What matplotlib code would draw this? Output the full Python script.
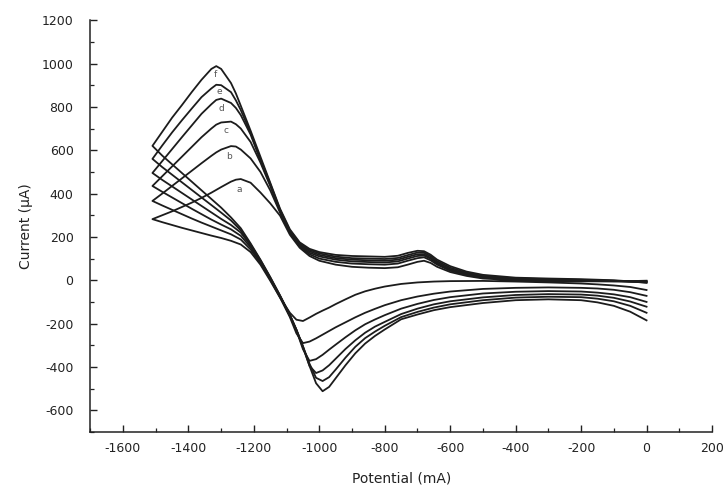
import matplotlib
matplotlib.use("Agg")
import matplotlib.pyplot as plt
from matplotlib.ticker import MultipleLocator

# potentials (mV) along the forward (upper) branch, from the switching point to 0
x_up = [-1510, -1480, -1450, -1420, -1390, -1360, -1330, -1315, -1300, -1270, -1255, -1240,
        -1210, -1180, -1150, -1120, -1090, -1060, -1030, -1000, -950, -900,
        -850, -800, -760, -730, -700, -680, -660, -640, -600, -550,
        -500, -400, -300, -200, -100, -50, 0]

up_a = [282, 300, 318, 338, 358, 380, 404, 417, 430, 455, 464, 467, 450, 405, 355, 298, 210, 150, 112, 90,
        72, 62, 58, 56, 60, 72, 85, 90, 80, 62, 38, 20, 8, 0, -3, -5, -5, -4, -2]
up_b = [366, 400, 435, 470, 505, 540, 574, 590, 603, 619, 617, 603, 562, 500, 415, 312, 218, 155, 120, 100,
        85, 77, 74, 72, 77, 90, 102, 106, 92, 72, 44, 25, 12, 3, 0, -3, -5, -5, -4]
up_c = [435, 480, 525, 570, 615, 660, 700, 718, 728, 732, 720, 700, 638, 543, 435, 318, 222, 160, 127, 110,
        95, 87, 84, 82, 87, 100, 112, 114, 99, 78, 48, 28, 15, 5, 1, -2, -4, -6, -6]
up_d = [495, 550, 605, 660, 714, 768, 812, 832, 838, 818, 795, 762, 672, 553, 440, 320, 225, 165, 134, 117,
        102, 95, 92, 90, 95, 108, 120, 120, 104, 82, 52, 31, 17, 7, 3, 0, -3, -6, -8]
up_e = [560, 622, 682, 738, 792, 845, 885, 902, 900, 868, 830, 785, 680, 560, 445, 325, 230, 170, 140, 124,
        109, 102, 100, 98, 103, 116, 128, 127, 111, 88, 58, 35, 20, 9, 5, 2, -2, -6, -10]
up_f = [620, 685, 750, 808, 868, 925, 975, 988, 975, 910, 862, 805, 690, 570, 450, 330, 235, 175, 145, 130,
        117, 112, 110, 108, 113, 126, 136, 134, 118, 95, 65, 40, 25, 12, 8, 5, 0, -5, -12]

# reverse (lower) branch, from the switching point back to 0
x_lo = [-1510, -1480, -1450, -1420, -1390, -1360, -1330, -1300, -1270, -1240,
        -1210, -1180, -1150, -1120, -1090, -1070, -1050, -1030, -1010, -990,
        -970, -950, -920, -890, -860, -830, -800, -750, -700, -650,
        -600, -500, -400, -300, -200, -150, -100, -50, 0]

lo_a = [282, 268, 255, 242, 230, 218, 206, 195, 182, 165, 130, 72, -2, -80,
        -150, -182, -188, -172, -155, -140, -126, -110,
        -88, -67, -51, -39, -29, -17, -10, -6, -4,
        -3, -6, -10, -15, -19, -24, -31, -45]
lo_b = [366, 345, 325, 305, 285, 266, 248, 230, 212, 188, 142, 80, 3, -80,
        -170, -245, -290, -283, -268, -251, -234, -217,
        -194, -171, -150, -132, -115, -92, -75, -62, -52,
        -40, -35, -33, -35, -38, -44, -55, -72]
lo_c = [435, 408, 382, 356, 330, 305, 280, 257, 235, 205, 152, 86, 8, -75,
        -165, -232, -318, -372, -364, -344, -320, -297,
        -263, -231, -203, -181, -161, -131, -109, -91, -78,
        -61, -53, -50, -52, -57, -65, -78, -100]
lo_d = [495, 463, 433, 403, 373, 343, 313, 283, 255, 220, 160, 90, 10, -73,
        -160, -228, -305, -395, -428, -416, -392, -362,
        -317, -277, -242, -214, -192, -156, -131, -111, -97,
        -79, -68, -64, -66, -71, -81, -98, -122]
lo_e = [560, 522, 487, 452, 417, 382, 347, 312, 276, 230, 165, 92, 12, -72,
        -160, -228, -305, -385, -450, -465, -447, -412,
        -357, -307, -267, -237, -210, -170, -146, -126, -111,
        -92, -80, -76, -78, -85, -97, -118, -150]
lo_f = [620, 575, 535, 495, 455, 415, 375, 335, 290, 240, 170, 95, 15, -70,
        -160, -230, -310, -395, -475, -512, -492, -452,
        -392, -337, -292, -257, -227, -180, -158, -138, -124,
        -105, -92, -88, -92, -102, -118, -145, -185]

curve_names = ["a", "b", "c", "d", "e", "f"]
upper = [up_a, up_b, up_c, up_d, up_e, up_f]
lower = [lo_a, lo_b, lo_c, lo_d, lo_e, lo_f]
# where the small letters sit, just under each cathodic peak
label_pos = [(-1244, 420), (-1275, 572), (-1284, 690), (-1299, 792), (-1306, 872), (-1318, 950)]

plt.rcParams["font.family"] = ["DejaVu Sans"]
plt.rcParams["axes.unicode_minus"] = False

fig = plt.figure(figsize=(7.28, 4.92), dpi=100)
ax = fig.add_axes([0.124, 0.122, 0.854, 0.837])

for name, up, lo, (lx, ly) in zip(curve_names, upper, lower, label_pos):
    xs = x_up[::-1] + x_lo
    ys = up[::-1] + lo
    ax.plot(xs, ys, color="#1c1c1c", lw=1.3, solid_joinstyle="round")
    ax.text(lx, ly, name, fontsize=6.5, color="#555555", ha="center", va="center")

ax.set_xlim(-1700, 200)
ax.set_ylim(-700, 1200)
ax.xaxis.set_major_locator(MultipleLocator(200))
ax.xaxis.set_minor_locator(MultipleLocator(100))
ax.yaxis.set_major_locator(MultipleLocator(200))
ax.yaxis.set_minor_locator(MultipleLocator(100))

ax.spines["top"].set_visible(False)
ax.spines["right"].set_visible(False)
for s in ("left", "bottom"):
    ax.spines[s].set_linewidth(1.1)
    ax.spines[s].set_color("#222222")

ax.tick_params(axis="both", which="major", direction="in", length=5, width=1,
               labelsize=9, colors="#222222")
ax.tick_params(axis="both", which="minor", direction="in", length=3, width=0.9,
               colors="#222222")
ax.tick_params(axis="y", which="major", pad=12)
ax.tick_params(axis="x", which="major", pad=7)

ax.set_xlabel("Potential (mA)", fontsize=10, labelpad=12, color="#222222")
ax.set_ylabel("Current (\u00b5A)", fontsize=10, labelpad=6, color="#222222")

fig.savefig("out.png", dpi=100)
